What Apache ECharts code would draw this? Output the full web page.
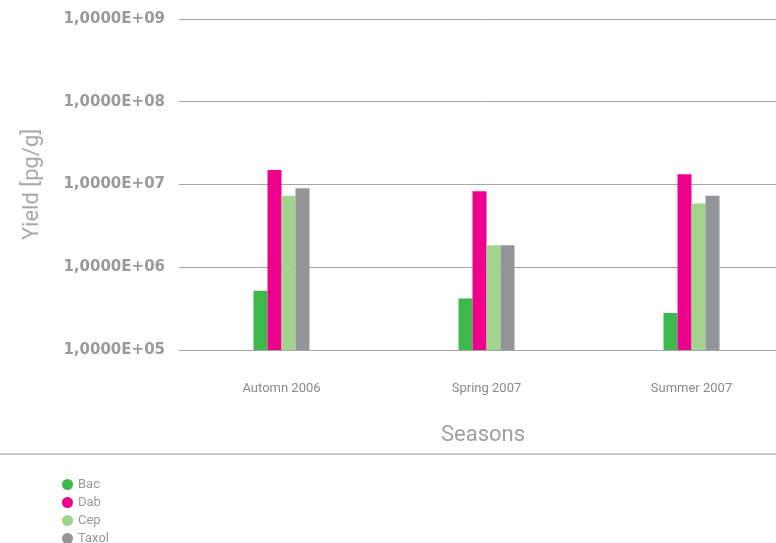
<!DOCTYPE html>
<html><head><meta charset="utf-8">
<script src="https://cdn.jsdelivr.net/npm/echarts@6/dist/echarts.min.js"></script>
<style>html,body{margin:0;padding:0;background:#fff;overflow:hidden}#c{width:794px;height:543px}</style>
</head><body><div id="c"></div>
<script>
const categories = ['Automn 2006', 'Spring 2007', 'Summer 2007'];
const seriesNames = ['Bac', 'Dab', 'Cep', 'Taxol'];
const bac = [520000, 420000, 280000];
const dab = [15000000, 8300000, 13300000];
const cep = [7300000, 1840000, 5900000];
const taxol = [9000000, 1840000, 7300000];
const colors = ['#3db94b', '#ec008c', '#a2d48f', '#939598'];
const yMin = 1e5, yMax = 1e9;

const chart = echarts.init(document.getElementById('c'));
const dataSets = [bac, dab, cep, taxol];
chart.setOption({
  animation: false,
  color: colors,
  grid: {left: 179, right: 0, top: 19, bottom: 193},
  legend: {
    orient: 'vertical', left: 57, top: 473, height: 80, itemGap: 5, itemWidth: 11, itemHeight: 11,
    icon: 'circle', textStyle: {color: '#999', fontSize: 13, fontFamily: 'Roboto'},
    data: seriesNames
  },
  xAxis: {
    type: 'category', data: categories,
    name: 'Seasons', nameLocation: 'middle', nameGap: 74,
    nameTextStyle: {color: '#a0a0a0', fontSize: 22, fontFamily: 'Roboto', padding: [0, 7, 0, 0]},
    axisLine: {show: false}, axisTick: {show: false},
    axisLabel: {color: '#8a8a8a', fontSize: 13, margin: 32, fontFamily: 'Roboto'}
  },
  yAxis: {
    type: 'log', min: yMin, max: yMax, logBase: 10,
    name: 'Yield [pg/g]', nameLocation: 'middle', nameGap: 136, nameRotate: 90,
    nameTextStyle: {color: '#a8a8a8', fontSize: 22, fontFamily: 'Roboto'},
    axisLine: {show: false}, axisTick: {show: false},
    splitLine: {lineStyle: {color: '#a6a6a6', width: 1}},
    axisLabel: {
      color: '#9a9a9a', fontSize: 15, fontWeight: 'bold', margin: 14, fontFamily: 'DejaVu Sans',
      formatter: v => { const e = Math.round(Math.log10(v)); return '1,0000E+' + (e < 10 ? '0' + e : e); }
    }
  },
  graphic: [{type: 'line', shape: {x1: 0, y1: 454, x2: 776, y2: 454}, style: {stroke: '#b5b5b5', lineWidth: 1.5}}],
  series: seriesNames.map((n, i) => ({
    name: n, type: 'bar', data: dataSets[i], barWidth: 14, barGap: '0%'
  }))
});
</script></body></html>
